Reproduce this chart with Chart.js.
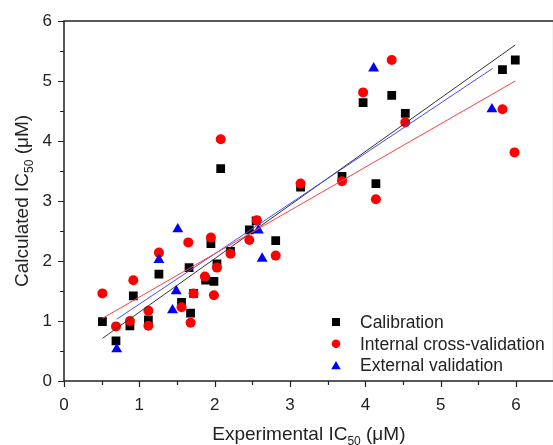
<!DOCTYPE html>
<html>
<head>
<meta charset="utf-8">
<script src="https://cdn.jsdelivr.net/npm/chart.js@4/dist/chart.umd.min.js"></script>
<style>
  html, body { margin: 0; padding: 0; overflow: hidden; background: #fff; }
  canvas { display: block; }
</style>
</head>
<body>
<canvas id="chart" width="560" height="445"></canvas>
<script>
// ---------- Data ----------

const calX = [0.51, 0.69, 0.92, 0.875, 1.12, 1.26, 1.66, 1.56, 1.72, 1.68, 1.95, 1.88, 2.03, 1.99,
  2.21, 2.08, 2.46, 2.55, 2.81, 3.14, 3.69, 3.97, 4.35, 4.53, 4.14, 5.82, 5.99];
const calY = [0.99, 0.67, 1.42, 0.92, 1.02, 1.78, 1.89, 1.31, 1.46, 1.13, 2.29, 1.68, 1.95, 1.66,
  2.16, 3.54, 2.52, 2.67, 2.34, 3.23, 3.41, 4.64, 4.76, 4.46, 3.29, 5.19, 5.35];

const cvX = [0.51, 0.69, 0.92, 0.875, 1.12, 1.12, 1.26, 1.65, 1.56, 1.72, 1.68, 1.95, 1.87, 2.03,
  1.99, 2.21, 2.08, 2.46, 2.56, 2.81, 3.14, 3.69, 3.97, 4.35, 4.53, 4.14, 5.82, 5.98];
const cvY = [1.46, 0.91, 1.68, 1.00, 1.17, 0.92, 2.14, 2.31, 1.23, 1.46, 0.97, 2.39, 1.74, 1.89,
  1.43, 2.12, 4.03, 2.35, 2.68, 2.09, 3.29, 3.33, 4.81, 5.35, 4.31, 3.03, 4.53, 3.81];

const extX = [0.70, 1.26, 1.51, 1.49, 1.44, 2.58, 2.63, 4.11, 5.68];
const extY = [0.53, 2.02, 2.53, 1.50, 1.18, 2.51, 2.04, 5.21, 4.53];

// fitted lines, end points
const calFitX = [0.51, 5.99];
const calFitY = [0.71, 5.60];
const cvFitX = [0.51, 5.99];
const cvFitY = [1.045, 5.00];
const extFitX = [0.70, 5.69];
const extFitY = [1.03, 5.21];

const xTicksMax = 6.5;
const yTicksMax = 6;

const seriesNames = ['Calibration', 'Internal cross-validation', 'External validation'];

// ---------- Helpers ----------

function toPoints(xs, ys) {
  return xs.map((x, i) => ({ x, y: ys[i] }));
}

const FONT = 'Arial, "Liberation Sans", sans-serif';

function drawMarker(ctx, style, x, y, r, color) {
  ctx.fillStyle = color;
  ctx.beginPath();
  if (style === 'rect') {
    ctx.rect(x - r, y - r, 2 * r, 2 * r);
  } else if (style === 'circle') {
    ctx.arc(x, y, r, 0, Math.PI * 2);
  } else {
    ctx.moveTo(x, y - r);
    ctx.lineTo(x + r * 0.866, y + r * 0.5);
    ctx.lineTo(x - r * 0.866, y + r * 0.5);
    ctx.closePath();
  }
  ctx.fill();
}

function drawSubTitle(ctx, main, sub, tail, size) {
  // draws centered at current origin, baseline 0
  ctx.font = `${size}px ${FONT}`;
  const w1 = ctx.measureText(main).width;
  const w3 = ctx.measureText(tail).width;
  ctx.font = `${Math.round(size * 0.62)}px ${FONT}`;
  const w2 = ctx.measureText(sub).width;
  let x = -(w1 + w2 + w3) / 2;
  ctx.textAlign = 'left';
  ctx.textBaseline = 'alphabetic';
  ctx.font = `${size}px ${FONT}`;
  ctx.fillText(main, x, 0);
  x += w1;
  ctx.font = `${Math.round(size * 0.62)}px ${FONT}`;
  ctx.fillText(sub, x, size * 0.28);
  x += w2;
  ctx.font = `${size}px ${FONT}`;
  ctx.fillText(tail, x, 0);
}

// ---------- Frame, minor ticks, titles, legend ----------

const decorPlugin = {
  id: 'decor',
  afterDraw(chart) {
    const { ctx, chartArea: a, scales } = chart;
    const xs = scales.x;
    const ys = scales.y;
    ctx.save();

    // frame
    ctx.strokeStyle = '#222';
    ctx.lineWidth = 1.5;
    ctx.strokeRect(a.left, a.top, a.right - a.left, a.bottom - a.top);

    // tick marks (outside)
    ctx.lineWidth = 1.2;
    ctx.beginPath();
    xs.ticks.forEach((t) => {
      const px = Math.round(xs.getPixelForValue(t.value)) + 0.5;
      const len = t.value % 1 === 0 ? 6 : 4;
      ctx.moveTo(px, a.bottom);
      ctx.lineTo(px, a.bottom + len);
    });
    ys.ticks.forEach((t) => {
      const py = Math.round(ys.getPixelForValue(t.value)) + 0.5;
      const len = t.value % 1 === 0 ? 6 : 4;
      ctx.moveTo(a.left, py);
      ctx.lineTo(a.left - len, py);
    });
    ctx.stroke();

    // axis titles
    ctx.fillStyle = '#222';
    ctx.save();
    ctx.translate((a.left + a.right) / 2, 440);
    drawSubTitle(ctx, 'Experimental IC', '50', ' (\u03bcM)', 19);
    ctx.restore();

    ctx.save();
    ctx.translate(28, (a.top + a.bottom) / 2);
    ctx.rotate(-Math.PI / 2);
    drawSubTitle(ctx, 'Calculated IC', '50', ' (\u03bcM)', 19);
    ctx.restore();

    // legend
    const styles = [['rect', 4, '#000'], ['circle', 4.3, '#ff0000'], ['triangle', 5.5, '#0000ff']];
    ctx.font = `17.5px ${FONT}`;
    ctx.textAlign = 'left';
    ctx.textBaseline = 'middle';
    seriesNames.forEach((name, i) => {
      const cy = 322 + i * 21.7;
      const st = styles[i];
      drawMarker(ctx, st[0], 336, st[0] === 'triangle' ? cy + 1 : cy, st[1], st[2]);
      ctx.fillStyle = '#222';
      ctx.fillText(name, 360, cy + 1);
    });

    ctx.restore();
  }
};

// ---------- Chart ----------

const ctx = document.getElementById('chart').getContext('2d');

new Chart(ctx, {
  type: 'scatter',
  data: {
    datasets: [
      {
        label: seriesNames[0],
        data: toPoints(calX, calY),
        pointStyle: 'rect',
        pointRadius: 6.2,
        backgroundColor: '#000',
        borderWidth: 0,
        order: 6
      },
      {
        label: seriesNames[1],
        data: toPoints(cvX, cvY),
        pointStyle: 'circle',
        pointRadius: 5,
        backgroundColor: '#ff0000',
        borderWidth: 0,
        order: 5
      },
      {
        label: seriesNames[2],
        data: toPoints(extX, extY),
        pointStyle: 'triangle',
        pointRadius: 6.3,
        backgroundColor: '#0000ff',
        borderWidth: 0,
        order: 4
      },
      {
        type: 'line',
        label: 'cal fit',
        data: toPoints(calFitX, calFitY),
        borderColor: '#333',
        borderWidth: 1,
        pointRadius: 0,
        fill: false,
        order: 3
      },
      {
        type: 'line',
        label: 'ext fit',
        data: toPoints(extFitX, extFitY),
        borderColor: '#4a4aff',
        borderWidth: 1,
        pointRadius: 0,
        fill: false,
        order: 2
      },
      {
        type: 'line',
        label: 'cv fit',
        data: toPoints(cvFitX, cvFitY),
        borderColor: '#ff4040',
        borderWidth: 1,
        pointRadius: 0,
        fill: false,
        order: 1
      }
    ]
  },
  options: {
    responsive: false,
    animation: false,
    events: [],
    layout: { padding: { top: 21, right: 6, left: 0, bottom: 0 } },
    plugins: {
      legend: { display: false },
      tooltip: { enabled: false }
    },
    scales: {
      x: {
        type: 'linear',
        min: 0,
        max: xTicksMax,
        grid: { display: false, drawTicks: false },
        border: { display: false },
        ticks: {
          stepSize: 0.5,
          autoSkip: false,
          maxRotation: 0,
          padding: 14,
          color: '#222',
          font: { family: FONT, size: 17 },
          callback: (v) => (v % 1 === 0 ? v : '')
        },
        afterFit: (scale) => {
          scale.height = 64;
          scale.paddingLeft = 0;
          scale.paddingRight = 0;
        }
      },
      y: {
        type: 'linear',
        min: 0,
        max: yTicksMax,
        grid: { display: false, drawTicks: false },
        border: { display: false },
        ticks: {
          stepSize: 0.5,
          autoSkip: false,
          padding: 12,
          color: '#222',
          font: { family: FONT, size: 17 },
          callback: (v) => (v % 1 === 0 ? v : '')
        },
        afterFit: (scale) => {
          scale.width = 64;
          scale.paddingTop = 0;
          scale.paddingBottom = 0;
        }
      }
    }
  },
  plugins: [decorPlugin]
});
</script>
</body>
</html>
